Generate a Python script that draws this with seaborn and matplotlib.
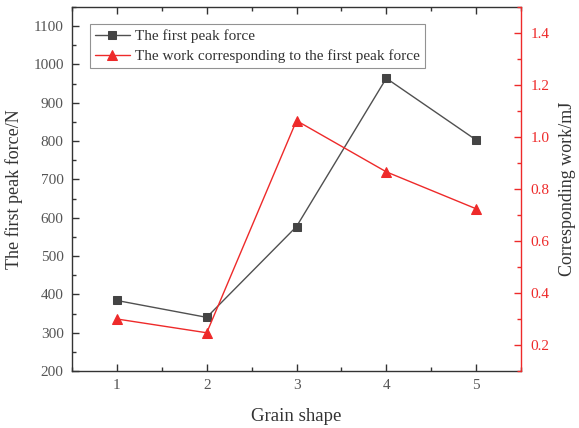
import matplotlib
matplotlib.use("Agg")
import matplotlib.pyplot as plt
from matplotlib.ticker import MultipleLocator
import seaborn as sns
import pandas as pd

grain_shape = [1, 2, 3, 4, 5]
peak_force = [384, 340, 577, 964, 803]
work = [0.30, 0.247, 1.063, 0.866, 0.724]

sns.set_style("ticks")
plt.rcParams["font.family"] = ["Liberation Serif", "DejaVu Serif"]

df = pd.DataFrame({"shape": grain_shape, "force": peak_force, "work": work})

fig = plt.figure(figsize=(5.79, 4.28), dpi=100)
ax = fig.add_axes([0.1244, 0.1332, 0.7754, 0.8504])
ax2 = ax.twinx()

grey_line = "#505050"
red = "#ee2a2a"
txt = "#333333"

sns.lineplot(data=df, x="shape", y="force", ax=ax, color=grey_line, marker="s",
             markersize=6, markeredgecolor="#444444", markerfacecolor="#444444",
             linewidth=1.0, label="The first peak force", legend=False)
sns.lineplot(data=df, x="shape", y="work", ax=ax2, color=red, marker="^",
             markersize=7, markeredgecolor=red, markerfacecolor=red,
             linewidth=1.0, label="The work corresponding to the first peak force", legend=False)

ax.set_xlim(0.5, 5.5)
ax.set_ylim(200, 1150)
ax2.set_ylim(0.1, 1.5)

ax.set_xticks(grain_shape)
ax.xaxis.set_minor_locator(MultipleLocator(0.5))
ax.yaxis.set_major_locator(MultipleLocator(100))
ax.yaxis.set_minor_locator(MultipleLocator(50))
ax2.set_yticks([0.2, 0.4, 0.6, 0.8, 1.0, 1.2, 1.4])
ax2.set_yticklabels(["0.2", "0.4", "0.6", "0.8", "1.0", "1.2", "1.4"])
ax2.yaxis.set_minor_locator(MultipleLocator(0.1))

ax.tick_params(axis="both", which="major", direction="in", length=5, width=1,
               labelsize=11, labelcolor="#555555", color="#333333", top=True, pad=6)
ax.tick_params(axis="both", which="minor", direction="in", length=3, width=1,
               color="#333333", top=True)
ax.tick_params(axis="y", right=False, which="both")
ax2.tick_params(axis="y", which="major", direction="in", length=5, width=1,
                labelsize=11, labelcolor=red, color=red, pad=7)
ax2.tick_params(axis="y", which="minor", direction="in", length=3, width=1, color=red)

for side in ["left", "top", "bottom"]:
    ax.spines[side].set_color("#333333")
    ax.spines[side].set_linewidth(1.0)
    ax2.spines[side].set_visible(False)
ax.spines["right"].set_visible(False)
ax2.spines["right"].set_visible(True)
ax2.spines["right"].set_color(red)
ax2.spines["right"].set_linewidth(1.0)

ax.set_xlabel("Grain shape", fontsize=13.5, color=txt, labelpad=11)
ax.set_ylabel("The first peak force/N", fontsize=13, color=txt, labelpad=7)
ax2.set_ylabel("Corresponding work/mJ", fontsize=13, color=txt, labelpad=7)

h1, l1 = ax.get_legend_handles_labels()
h2, l2 = ax2.get_legend_handles_labels()
leg = ax.legend(h1 + h2, l1 + l2, loc="upper left", bbox_to_anchor=(0.04, 0.952),
                fontsize=11, frameon=True, fancybox=False, borderpad=0.3,
                handlelength=2.3, handletextpad=0.35, labelspacing=0.42,
                borderaxespad=0)
leg.get_frame().set_edgecolor("#777777")
leg.get_frame().set_linewidth(0.8)
for t in leg.get_texts():
    t.set_color(txt)

fig.savefig("out.png", dpi=100)
